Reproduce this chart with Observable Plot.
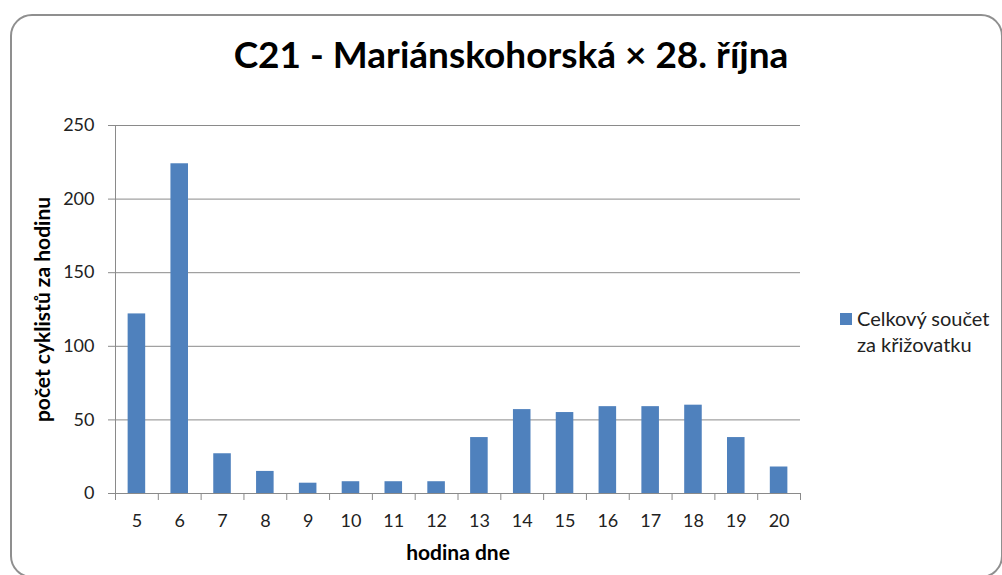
<!DOCTYPE html>
<html><head><meta charset="utf-8">
<script src="https://cdn.jsdelivr.net/npm/d3@7"></script>
<script src="https://cdn.jsdelivr.net/npm/@observablehq/plot@0.6"></script>
<style>
body{margin:0;background:#fff;font-family:Lato,"Open Sans",sans-serif;}
#wrap{position:relative;width:1002px;height:575px;overflow:hidden;background:#fff;}
#frame{position:absolute;left:10px;top:14px;width:993px;height:564px;border:2px solid #8f8f8f;border-radius:22px;box-sizing:border-box;}
#title{position:absolute;left:10px;top:31px;width:1002px;text-align:center;font-weight:bold;font-size:37px;color:#000;white-space:nowrap;}
#chart{position:absolute;left:0;top:0;}
#legend{position:absolute;left:840px;top:305px;font-size:20px;color:#222;line-height:26px;}
#legend .sw{position:absolute;left:0;top:8px;width:12px;height:12px;background:#4F81BD;}
#legend .tx{margin-left:17px;white-space:nowrap;}
</style></head>
<body>
<div id="wrap">
  <div id="frame"></div>
  <div id="title">C21 - Mariánskohorská × 28. října</div>
  <div id="chart"></div>
  <div id="legend"><div class="sw"></div><div class="tx">Celkový součet<br>za křižovatku</div></div>
</div>
<script>
const hours = ["5","6","7","8","9","10","11","12","13","14","15","16","17","18","19","20"];
const counts = [122,224,27,15,7,8,8,8,38,57,55,59,59,60,38,18];
const yTicks = [0,50,100,150,200,250];
const yLabel = "počet cyklistů za hodinu";
const xLabel = "hodina dne";

const data = hours.map((h,i)=>({hour:h, count:counts[i]}));
const W=1002, H=575, ML=115, MR=202, MT=125, MB=82;
const step = (W-ML-MR)/hours.length;
const gray = "#8a8a8a";

const chart = Plot.plot({
  width:W, height:H, marginLeft:ML, marginRight:MR, marginTop:MT, marginBottom:MB,
  style:{fontFamily:"Lato, 'Open Sans', sans-serif", fontSize:"18px", color:"#222", background:"transparent", overflow:"visible"},
  x:{domain:hours, paddingInner:0.59, paddingOuter:0.295, round:false, label:null},
  y:{domain:[0,250], ticks:yTicks, label:null},
  marks:[
    Plot.gridY(yTicks, {stroke:gray, strokeOpacity:1}),
    Plot.axisY(yTicks, {tickSize:7, tickPadding:14, stroke:gray, label:null, fontSize:18}),
    Plot.axisX({tickSize:0, tickPadding:21, label:null, fontSize:18}),
    Plot.ruleX([hours[0]], {x:d=>d, dx:-step/2, stroke:gray}),
    Plot.ruleY([0], {stroke:gray}),
    Plot.ruleX(hours, {x:d=>d, dx:-step/2, y1:0, y2:0, insetBottom:-7, stroke:gray}),
    Plot.ruleX([hours[hours.length-1]], {x:d=>d, dx:step/2, y1:0, y2:0, insetBottom:-7, stroke:gray}),
    Plot.barY(data, {x:"hour", y:"count", fill:"#4F81BD"}),
    Plot.text([yLabel], {text:d=>d, frameAnchor:"left", textAnchor:"middle", lineAnchor:"middle", dx:-72, rotate:-90, fontWeight:"bold", fontSize:21, fill:"#000"}),
    Plot.text([xLabel], {text:d=>d, frameAnchor:"bottom", textAnchor:"middle", lineAnchor:"middle", dy:60, fontWeight:"bold", fontSize:21, fill:"#000"})
  ]
});
document.getElementById("chart").appendChild(chart);
</script>
</body></html>
